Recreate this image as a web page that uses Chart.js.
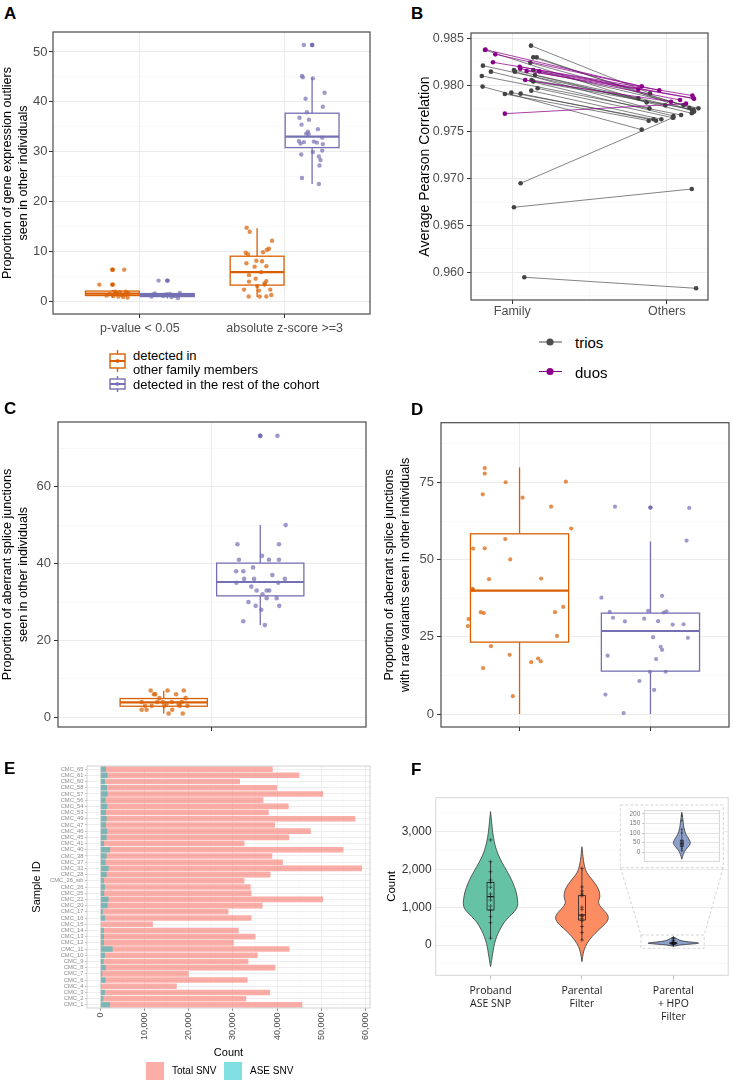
<!DOCTYPE html>
<html>
<head>
<meta charset="utf-8">
<title>Figure</title>
<script src="https://cdn.jsdelivr.net/npm/chart.js@4.4.1/dist/chart.umd.min.js"></script>
<style>
  body { margin: 0; background: #fff; font-family: "Liberation Sans", Arial, sans-serif; }
  #page { position: relative; width: 733px; height: 1082px; overflow: hidden; background: #fff; }
  canvas { position: absolute; }
  .tag { position: absolute; font-size: 17px; font-weight: bold; line-height: 17px; color: #000; }
  .txt { position: absolute; white-space: nowrap; color: #000; }
  svg { position: absolute; overflow: visible; }
  .sq { position: absolute; width: 18px; height: 18px; }
</style>
</head>
<body>
<div id="page">
  <canvas id="chartA" width="375" height="322" style="left:0;top:25px"></canvas>
  <canvas id="chartB" width="358" height="300" style="left:375px;top:25px"></canvas>
  <canvas id="chartC" width="375" height="340" style="left:0;top:395px"></canvas>
  <canvas id="chartD" width="358" height="340" style="left:375px;top:395px"></canvas>
  <canvas id="chartE" width="375" height="327" style="left:0;top:755px"></canvas>
  <canvas id="chartF" width="358" height="275" style="left:375px;top:755px"></canvas>
  <canvas id="chartInset" width="102" height="60" style="left:622px;top:806px"></canvas>

  <div class="tag" style="left:4px;top:4.5px">A</div>
  <div class="tag" style="left:411px;top:4.5px">B</div>
  <div class="tag" style="left:4px;top:399.5px">C</div>
  <div class="tag" style="left:411px;top:401px">D</div>
  <div class="tag" style="left:4px;top:760px">E</div>
  <div class="tag" style="left:411px;top:760.5px">F</div>

  <!-- legend A -->
  <svg style="left:108px;top:348px" width="20" height="46">
    <g stroke="#D95F02" stroke-width="1.4" fill="#fff">
      <line x1="9.5" y1="2" x2="9.5" y2="6"/><line x1="9.5" y1="20" x2="9.5" y2="24"/>
      <rect x="2" y="6" width="15" height="14"/>
      <line x1="2" y1="13" x2="17" y2="13" stroke-width="2"/>
    </g>
    <circle cx="9.5" cy="13" r="2.1" fill="#D95F02" fill-opacity="0.8"/>
    <g stroke="#7570B3" stroke-width="1.4" fill="#fff">
      <line x1="9.5" y1="28" x2="9.5" y2="31"/><line x1="9.5" y1="41" x2="9.5" y2="44"/>
      <rect x="2" y="31" width="15" height="10"/>
      <line x1="2" y1="36" x2="17" y2="36" stroke-width="2"/>
    </g>
    <circle cx="9.5" cy="36" r="2.1" fill="#7570B3" fill-opacity="0.8"/>
  </svg>
  <div class="txt" style="left:133px;top:348.5px;font-size:13px;line-height:14px">detected in</div>
  <div class="txt" style="left:133px;top:362.5px;font-size:13px;line-height:14px">other family members</div>
  <div class="txt" style="left:133px;top:377.5px;font-size:13px;line-height:14px">detected in the rest of the cohort</div>

  <!-- legend B -->
  <svg style="left:535px;top:330px" width="30" height="50">
    <line x1="4" y1="12" x2="27" y2="12" stroke="#4D4D4D" stroke-width="1"/>
    <circle cx="15" cy="12" r="3.6" fill="#4D4D4D"/>
    <line x1="4" y1="41.5" x2="27" y2="41.5" stroke="#8B008B" stroke-width="1"/>
    <circle cx="15" cy="41.5" r="3.6" fill="#8B008B"/>
  </svg>
  <div class="txt" style="left:575px;top:335px;font-size:15px;line-height:15px">trios</div>
  <div class="txt" style="left:575px;top:364.5px;font-size:15px;line-height:15px">duos</div>

  <!-- legend E -->
  <div class="sq" style="left:146px;top:1062px;background:rgba(248,118,109,0.6)"></div>
  <div class="txt" style="left:172px;top:1066px;font-size:10px;line-height:10px">Total SNV</div>
  <div class="sq" style="left:224px;top:1062px;background:rgba(0,191,196,0.5)"></div>
  <div class="txt" style="left:250px;top:1066px;font-size:10px;line-height:10px">ASE SNV</div>
</div>

<script>
const FONT = '"Liberation Sans", Arial, sans-serif';
const INK = '#4D4D4D';
const ORANGE = '#D95F02', PURPLE = '#7570B3';
const ORANGE_PT = 'rgba(217,95,2,0.7)', PURPLE_PT = 'rgba(117,112,179,0.7)';
Chart.defaults.font.family = FONT;
Chart.defaults.color = INK;

// ---------- A: gene expression outliers ----------
const aCategories = ['p-value < 0.05', 'absolute z-score >=3'];
const aYTicks = [0, 10, 20, 30, 40, 50];
const aYMinor = [5, 15, 25, 35, 45];
// [lower whisker, q1, median, q3, upper whisker]
const aFamilyBox = [[0.7, 1.1, 1.5, 2.0, 2.2], [0.8, 3.2, 5.8, 9.0, 14.6]];
const aCohortBox = [[0.5, 0.9, 1.2, 1.5, 1.7], [23.5, 30.8, 33.0, 37.7, 44.8]];
const aFamilyOut = [[1, 6.3], [1, 3.3]];
const aCohortOut = [[1, 4.1], [2, 51.4]];
// [jitter from category centre, value]
const aFamilyPval = [[-0.186,6.3],[-0.108,6.3],[-0.28,3.3],[-0.186,3.3],[-0.172,1.9],[-0.138,1.8],[-0.097,1.9],[-0.161,1.5],[-0.126,1.2],[-0.184,1.0],[-0.149,0.9],[-0.115,0.8],[-0.085,0.7],[-0.207,1.4],[-0.103,1.3],[-0.08,1.6],[-0.23,1.1],[-0.166,1.7]];
const aCohortPval = [[0.129,4.1],[0.191,4.1],[0.092,1.3],[0.115,1.2],[0.161,1.0],[0.207,1.4],[0.230,1.1],[0.264,0.6],[0.276,1.6],[0.080,0.9],[0.179,1.3],[0.248,1.0],[0.103,1.5],[0.218,0.8]];
const aFamilyZ = [[-0.262,14.7],[-0.241,13.9],[-0.087,12.1],[-0.108,10.5],[-0.122,10.3],[-0.269,9.7],[-0.253,9.4],[-0.149,9.8],[-0.195,8.1],[-0.156,8.0],[-0.264,7.6],[-0.126,7.0],[-0.207,6.9],[-0.246,5.2],[-0.161,5.8],[-0.2,4.5],[-0.126,4.0],[-0.246,3.9],[-0.138,3.6],[-0.28,2.3],[-0.177,2.1],[-0.099,2.3],[-0.092,1.2],[-0.248,0.9],[-0.172,0.9],[-0.126,0.9],[-0.138,3.3],[-0.189,3.0]];
const aCohortZ = [[0.133,51.4],[0.191,51.4],[0.12,45.2],[0.126,44.9],[0.195,44.7],[0.276,41.8],[0.145,40.6],[0.264,39.0],[0.154,37.9],[0.103,36.8],[0.168,36.4],[0.117,35.4],[0.23,34.5],[0.149,33.6],[0.166,33.5],[0.26,32.8],[0.099,32.1],[0.202,32.0],[0.223,31.8],[0.11,31.6],[0.264,31.5],[0.26,30.2],[0.195,29.9],[0.115,29.4],[0.237,29.0],[0.248,28.3],[0.241,27.2],[0.12,24.7],[0.237,23.5],[0.133,31.9],[0.161,34.0]];

// ---------- B: Pearson correlation, family vs others ----------
const bCategories = ['Family', 'Others'];
const bYTicks = [0.960, 0.965, 0.970, 0.975, 0.980, 0.985];
const bYMinor = [0.9575, 0.9625, 0.9675, 0.9725, 0.9775, 0.9825];
const trioFamilyX = [1.121,0.823,0.810,0.862,0.803,0.808,0.952,0.994,1.054,1.123,1.164,1.117,1.136,1.158,1.011,1.017,1.136,1.147,1.125,1.136,1.054,1.011,1.078];
const trioFamilyY = [0.98422,0.98375,0.98208,0.98144,0.98098,0.97984,0.97905,0.97920,0.97909,0.97941,0.97966,0.98240,0.98297,0.98297,0.98162,0.98144,0.98162,0.98108,0.98055,0.98040,0.96951,0.96695,0.95947];
const trioOthersX = [1.892,1.870,1.991,2.043,2.093,1.838,1.883,1.914,1.931,1.965,2.039,2.108,2.147,2.177,2.162,1.888,2.205,2.164,1.816,2.173,2.043,2.162,2.190];
const trioOthersY = [0.97912,0.97816,0.97784,0.97670,0.97681,0.97524,0.97620,0.97635,0.97620,0.97635,0.97652,0.97788,0.97759,0.97717,0.97699,0.97752,0.97752,0.97734,0.97859,0.97740,0.97655,0.96890,0.95829];
const duoFamilyX = [0.827,0.890,0.875,1.048,1.052,1.093,1.175,1.084,0.952];
const duoFamilyY = [0.98379,0.98329,0.98244,0.98197,0.98176,0.98151,0.98147,0.98055,0.97695];
const duoOthersX = [1.838,1.952,2.166,2.173,2.086,1.816,2.177,2.028,2.125];
const duoOthersY = [0.97987,0.97944,0.97888,0.97859,0.97841,0.97955,0.97855,0.97823,0.97802];

// ---------- C: aberrant splice junctions ----------
const cYTicks = [0, 20, 40, 60];
const cYMinor = [10, 30, 50, 70];
const cFamilyBox = [1.0, 2.9, 3.9, 4.9, 6.9];
const cCohortBox = [24, 31.6, 35.2, 40.1, 50];
const cCohortOut = [73.2];
const cFamily = [[-0.239,7],[-0.173,7],[-0.110,7],[-0.226,6],[-0.221,6],[-0.140,6],[-0.205,5],[-0.103,5],[-0.274,4],[-0.213,4],[-0.157,4],[-0.118,4],[-0.261,3],[-0.235,3],[-0.186,3],[-0.125,3],[-0.096,3],[-0.274,2],[-0.255,2],[-0.155,2],[-0.169,1],[-0.114,1],[-0.192,4],[-0.130,3.5],[-0.177,3.5]];
const cCohort = [[0.255,73.2],[0.188,73.2],[0.287,50],[0.099,45],[0.261,45],[0.195,42],[0.105,41],[0.222,41],[0.261,41],[0.160,39],[0.094,38],[0.122,38],[0.125,36],[0.164,36],[0.284,36],[0.095,35],[0.258,35],[0.153,34],[0.174,33],[0.213,33],[0.223,33],[0.197,32],[0.213,31],[0.252,31],[0.142,30],[0.170,29],[0.262,29],[0.192,28],[0.122,25],[0.206,24],[0.235,37]];

// ---------- D: junctions with rare variants ----------
const dYTicks = [0, 25, 50, 75];
const dYMinor = [12.5, 37.5, 62.5, 87.5];
const dFamilyBox = [0, 23.3, 40.0, 58.4, 79.9];
const dCohortBox = [0, 13.9, 26.9, 32.7, 55.9];
const dCohortOut = [66.9];
const dFamily = [[-0.266,79.7],[-0.266,77.9],[-0.281,71.2],[-0.106,75.1],[0.354,75.3],[0.023,70.1],[0.241,67.2],[0.395,60.1],[-0.109,56.7],[-0.354,53.6],[-0.266,53.7],[-0.071,50.1],[-0.233,43.7],[0.165,43.9],[-0.359,40.6],[-0.354,40.2],[-0.39,30.8],[-0.395,28.5],[-0.296,33.0],[-0.273,32.7],[0.271,33.0],[0.334,34.7],[0.286,25.3],[-0.218,22.0],[-0.076,19.2],[-0.278,14.9],[0.089,16.8],[0.142,18.0],[0.162,17.1],[-0.051,5.8]];
const dCohort = [[-0.271,67.2],[0,66.9],[0.296,66.8],[0.276,56.2],[-0.375,37.7],[0.089,38.3],[-0.311,33.1],[-0.018,33.4],[0.101,32.9],[0.122,33.3],[-0.286,31.2],[-0.195,30.0],[-0.048,30.9],[0.058,30.1],[0.17,29.0],[0.253,29.1],[0.02,24.9],[0.286,24.7],[0.078,21.8],[0.089,20.8],[-0.327,18.9],[0.043,17.8],[-0.005,13.7],[0.116,13.7],[-0.084,10.7],[0.028,7.8],[-0.344,6.3],[-0.205,0.3]];

// ---------- E: SNV counts per sample ----------
const eSamples = ['CMC_65','CMC_61','CMC_60','CMC_58','CMC_57','CMC_56','CMC_54','CMC_53','CMC_49','CMC_47','CMC_46','CMC_45','CMC_41','CMC_40','CMC_38','CMC_37','CMC_32','CMC_28','CMC_26_sib','CMC_26','CMC_25','CMC_22','CMC_20','CMC_17','CMC_16','CMC_15','CMC_14','CMC_13','CMC_12','CMC_11','CMC_10','CMC_9','CMC_8','CMC_7','CMC_6','CMC_4','CMC_3','CMC_2','CMC_1'];
const eTotal = [39000,45000,31600,40000,50400,36900,42600,38100,57700,39500,47600,42700,32600,55000,38900,41300,59200,38500,32600,34000,34200,50400,36700,29000,34200,11900,31300,35100,30200,42800,35600,33500,39600,20000,33300,17300,38400,33000,45700];
const eAse = [1280,1660,1050,1500,1660,1200,1580,1280,1430,1280,1580,1430,830,2190,1430,1200,1880,1430,830,1050,900,1880,1660,600,1050,150,830,830,830,2790,1050,750,1280,450,1200,230,1050,680,2190];
const eXTicks = [0, 10000, 20000, 30000, 40000, 50000, 60000];
const eXMinor = [5000, 15000, 25000, 35000, 45000, 55000];

// ---------- F: ASE SNP filtering ----------
const fCategories = [['Proband', 'ASE SNP'], ['Parental', 'Filter'], ['Parental', '+ HPO', 'Filter']];
const fYTicks = [0, 1000, 2000, 3000];
const fYMinor = [-500, 500, 1500, 2500, 3500];
// violin outlines: [count, half width in category units]
const fProbandShape = [[3530,0],[3250,0.012],[2956,0.024],[2740,0.04],[2515,0.063],[2300,0.10],[2073,0.151],[1850,0.205],[1632,0.248],[1400,0.282],[1191,0.297],[1015,0.299],[880,0.26],[750,0.205],[620,0.155],[485,0.119],[300,0.08],[132,0.054],[-50,0.035],[-220,0.024],[-400,0.012],[-573,0]];
const fParentalShape = [[2603,0],[2420,0.008],[2250,0.015],[1985,0.036],[1850,0.07],[1720,0.115],[1590,0.155],[1456,0.187],[1279,0.2],[1150,0.178],[1050,0.19],[926,0.237],[840,0.27],[750,0.29],[660,0.285],[573,0.26],[480,0.22],[397,0.18],[220,0.108],[44,0.054],[-132,0.022],[-300,0.008],[-441,0]];
const fHpoShape = [[208,0],[175,0.032],[126,0.064],[93,0.127],[68,0.233],[46,0.297],[26,0.19],[2,0.074],[-23,0.021],[-36,0]];
const fBoxes = [[180, 926, 1279, 1659, 2205], [132, 662, 794, 1306, 2030], [2, 30, 46, 63, 120]];
const fProbandPts = [2780, 2205, 1940, 1720, 1650, 1530, 1350, 1280, 1190, 1030, 926, 750, 591, 180];
const fParentalPts = [2030, 1536, 1430, 1350, 1300, 1000, 940, 794, 750, 700, 640, 490, 330, 132];
const fHpoPts = [190, 165, 120, 100, 60, 55, 48, 45, 40, 35, 30, 20, 10];
const insetYTicks = [0, 50, 100, 150, 200];
const insetYMinor = [-25, 25, 75, 125, 175];

// ---------- helpers ----------
function fixSize(size) {
  return s => {
    if (s.isHorizontal()) s.height = size; else s.width = size;
    s.paddingLeft = s.paddingRight = s.paddingTop = s.paddingBottom = 0;
  };
}

function numAxis(o) {
  const minor = o.minor || [];
  const isMajor = v => o.major.indexOf(v) >= 0;
  return {
    type: 'linear', position: o.position, min: o.min, max: o.max, bounds: 'data',
    afterBuildTicks: s => { s.ticks = o.major.concat(minor).sort((a, b) => a - b).map(v => ({ value: v })); },
    afterFit: fixSize(o.size),
    ticks: {
      autoSkip: false, maxRotation: o.rotate || 0, minRotation: o.rotate || 0,
      padding: o.pad !== undefined ? o.pad : 2, color: o.tickText || INK,
      font: { family: o.family || FONT, size: o.fontSize || 13, lineHeight: o.lineHeight || 1.2 },
      callback: v => isMajor(v) ? (o.labels ? o.labels[o.major.indexOf(v)] : (o.fmt ? o.fmt(v) : v)) : ''
    },
    grid: {
      color: c => c.tick && isMajor(c.tick.value) ? (o.grid || '#EBEBEB') : (o.gridMinor || '#F3F3F3'),
      lineWidth: c => c.tick && isMajor(c.tick.value) ? 1 : 0.6,
      tickLength: o.tickLength !== undefined ? o.tickLength : 4,
      tickColor: c => c.tick && isMajor(c.tick.value) ? (o.tickColor || '#333') : 'rgba(0,0,0,0)',
      tickWidth: 1
    },
    border: { display: false },
    title: o.title ? {
      display: true, text: o.title, color: '#000',
      font: { family: o.family || FONT, size: o.titleSize || 12.5, lineHeight: o.titleLh || 1.25 },
      padding: { top: o.titleTop || 0, bottom: o.titleBottom || 0 }
    } : { display: false }
  };
}

function framePlugin(color, width) {
  return {
    id: 'frame',
    afterDatasetsDraw(chart) {
      const a = chart.chartArea, ctx = chart.ctx;
      ctx.save();
      ctx.strokeStyle = color;
      ctx.lineWidth = width;
      ctx.strokeRect(a.left, a.top, a.right - a.left, a.bottom - a.top);
      ctx.restore();
    }
  };
}

function drawBox(ctx, xs, ys, b) {
  const x0 = xs.getPixelForValue(b.x - b.half), x1 = xs.getPixelForValue(b.x + b.half);
  const xc = xs.getPixelForValue(b.x);
  const [lo, q1, med, q3, hi] = b.stats.map(v => ys.getPixelForValue(v));
  ctx.strokeStyle = b.color;
  ctx.lineWidth = b.lw;
  ctx.beginPath();
  ctx.moveTo(xc, q3); ctx.lineTo(xc, hi);
  ctx.moveTo(xc, q1); ctx.lineTo(xc, lo);
  ctx.stroke();
  if (b.fill) { ctx.fillStyle = b.fill; ctx.fillRect(x0, q3, x1 - x0, q1 - q3); }
  ctx.strokeRect(x0, q3, x1 - x0, q1 - q3);
  ctx.lineWidth = b.medLw;
  ctx.beginPath(); ctx.moveTo(x0, med); ctx.lineTo(x1, med); ctx.stroke();
}

function boxPlugin(boxes) {
  return {
    id: 'boxes',
    beforeDatasetsDraw(chart) {
      const ctx = chart.ctx;
      ctx.save();
      boxes.forEach(b => drawBox(ctx, chart.scales.x, chart.scales.y, b));
      ctx.restore();
    }
  };
}

function violinPath(ctx, xs, ys, cx, shape) {
  const left = shape.map(([v, w]) => [xs.getPixelForValue(cx - w), ys.getPixelForValue(v)]);
  const right = shape.map(([v, w]) => [xs.getPixelForValue(cx + w), ys.getPixelForValue(v)]).reverse();
  const pts = left.concat(right);
  const n = pts.length;
  const mid = (p, q) => [(p[0] + q[0]) / 2, (p[1] + q[1]) / 2];
  ctx.beginPath();
  const m0 = mid(pts[n - 1], pts[0]);
  ctx.moveTo(m0[0], m0[1]);
  for (let i = 0; i < n; i++) {
    const p = pts[i], m = mid(p, pts[(i + 1) % n]);
    ctx.quadraticCurveTo(p[0], p[1], m[0], m[1]);
  }
  ctx.closePath();
}

function violinPlugin(violins, boxes) {
  return {
    id: 'violins',
    beforeDatasetsDraw(chart) {
      const ctx = chart.ctx, xs = chart.scales.x, ys = chart.scales.y;
      ctx.save();
      violins.forEach(v => {
        violinPath(ctx, xs, ys, v.x, v.shape);
        ctx.fillStyle = v.color; ctx.fill();
        ctx.strokeStyle = '#3A3A3A'; ctx.lineWidth = 0.8; ctx.stroke();
      });
      boxes.forEach(b => drawBox(ctx, xs, ys, b));
      ctx.restore();
    }
  };
}

function jitterPoints(list, cat) {
  return list.map(p => ({ x: cat + p[0], y: p[1] }));
}

function scatterSet(data, color, radius) {
  return { data, pointRadius: radius, pointBackgroundColor: color, pointBorderWidth: 0, showLine: false };
}

const common = {
  responsive: false, animation: false, events: [],
  plugins: { legend: { display: false }, tooltip: { enabled: false } }
};

// ---------- chart A ----------
const A_DODGE = 0.19, A_HALF = 0.186;
new Chart(document.getElementById('chartA'), {
  type: 'scatter',
  data: { datasets: [
    scatterSet(jitterPoints(aFamilyPval, 1), ORANGE_PT, 2.2),
    scatterSet(jitterPoints(aCohortPval, 1), PURPLE_PT, 2.2),
    scatterSet(jitterPoints(aFamilyZ, 2), ORANGE_PT, 2.2),
    scatterSet(jitterPoints(aCohortZ, 2), PURPLE_PT, 2.2),
    scatterSet(aFamilyOut.map(p => ({ x: p[0] - A_DODGE, y: p[1] })), ORANGE, 2.2),
    scatterSet(aCohortOut.map(p => ({ x: p[0] + A_DODGE, y: p[1] })), PURPLE, 2.2)
  ] },
  options: Object.assign({}, common, {
    layout: { padding: { top: 7, right: 5, left: 0, bottom: 0 } },
    scales: {
      x: numAxis({ position: 'bottom', min: 0.4, max: 2.59, major: [1, 2], labels: aCategories, size: 33, fontSize: 12.5, pad: 3.5 }),
      y: numAxis({ position: 'left', min: -2.6, max: 54, major: aYTicks, minor: aYMinor, size: 53, fontSize: 13, pad: 1.5,
        title: ['Proportion of gene expression outliers', 'seen in other individuals'], titleSize: 12.6 })
    }
  }),
  plugins: [boxPlugin([
    { x: 1 - A_DODGE, half: A_HALF, stats: aFamilyBox[0], color: ORANGE, fill: '#fff', lw: 1.3, medLw: 2.2 },
    { x: 1 + A_DODGE, half: A_HALF, stats: aCohortBox[0], color: PURPLE, fill: '#fff', lw: 1.3, medLw: 2.2 },
    { x: 2 - A_DODGE, half: A_HALF, stats: aFamilyBox[1], color: ORANGE, fill: '#fff', lw: 1.3, medLw: 2.2 },
    { x: 2 + A_DODGE, half: A_HALF, stats: aCohortBox[1], color: PURPLE, fill: '#fff', lw: 1.3, medLw: 2.2 }
  ]), framePlugin('#4A4A4A', 1.2)]
});

// ---------- chart B ----------
function pairSet(x1, y1, x2, y2, line, dot, order) {
  return {
    data: [{ x: x1, y: y1 }, { x: x2, y: y2 }], showLine: true, borderColor: line, borderWidth: 0.75,
    pointRadius: 2.3, pointBackgroundColor: dot, pointBorderWidth: 0, order
  };
}
const bSets = [];
duoFamilyX.forEach((x, i) => bSets.push(pairSet(x, duoFamilyY[i], duoOthersX[i], duoOthersY[i], '#8B008B', '#8B008B', 0)));
trioFamilyX.forEach((x, i) => bSets.push(pairSet(x, trioFamilyY[i], trioOthersX[i], trioOthersY[i], 'rgba(60,60,60,0.85)', '#444', 1)));

new Chart(document.getElementById('chartB'), {
  type: 'scatter',
  data: { datasets: bSets },
  options: Object.assign({}, common, {
    layout: { padding: { top: 8, right: 25, left: 0, bottom: 0 } },
    scales: {
      x: numAxis({ position: 'bottom', min: 0.733, max: 2.267, major: [1, 2], minor: [1.5], labels: bCategories, size: 25, fontSize: 12.5, pad: 0 }),
      y: numAxis({ position: 'left', min: 0.95704, max: 0.98557, major: bYTicks, minor: bYMinor, size: 96, fontSize: 12.5, pad: 3,
        fmt: v => v.toFixed(3), title: 'Average Pearson Correlation', titleSize: 14, titleLh: 1.2, titleTop: 41.6 })
    }
  }),
  plugins: [framePlugin('#4A4A4A', 1.2)]
});

// ---------- chart C ----------
const C_DODGE = 0.188, C_HALF = 0.17;
new Chart(document.getElementById('chartC'), {
  type: 'scatter',
  data: { datasets: [
    scatterSet(jitterPoints(cFamily, 1), ORANGE_PT, 2.3),
    scatterSet(jitterPoints(cCohort, 1), PURPLE_PT, 2.3),
    scatterSet(cCohortOut.map(v => ({ x: 1 + C_DODGE, y: v })), PURPLE, 2.3)
  ] },
  options: Object.assign({}, common, {
    layout: { padding: { top: 27, right: 9, left: 0, bottom: 0 } },
    scales: {
      x: numAxis({ position: 'bottom', min: 0.4, max: 1.6, major: [1], labels: [''], size: 8 }),
      y: numAxis({ position: 'left', min: -2.5, max: 76.8, major: cYTicks, minor: cYMinor, size: 58, fontSize: 13, pad: 3,
        title: ['Proportion of aberrant splice junctions', 'seen in other individuals'], titleSize: 12.6 })
    }
  }),
  plugins: [boxPlugin([
    { x: 1 - C_DODGE, half: C_HALF, stats: cFamilyBox, color: ORANGE, fill: '#fff', lw: 1.3, medLw: 2.2 },
    { x: 1 + C_DODGE, half: C_HALF, stats: cCohortBox, color: PURPLE, fill: '#fff', lw: 1.3, medLw: 2.2 }
  ]), framePlugin('#4A4A4A', 1.2)]
});

// ---------- chart D ----------
const D_HALF = 0.375;
new Chart(document.getElementById('chartD'), {
  type: 'scatter',
  data: { datasets: [
    scatterSet(jitterPoints(dFamily, 1), ORANGE_PT, 2.1),
    scatterSet(jitterPoints(dCohort, 2), PURPLE_PT, 2.1),
    scatterSet(dCohortOut.map(v => ({ x: 2, y: v })), PURPLE, 2.1)
  ] },
  options: Object.assign({}, common, {
    layout: { padding: { top: 27.7, right: 2, left: 0, bottom: 0 } },
    scales: {
      x: numAxis({ position: 'bottom', min: 0.4, max: 2.6, major: [1, 2], labels: ['', ''], size: 8 }),
      y: numAxis({ position: 'left', min: -4.2, max: 94.4, major: dYTicks, minor: dYMinor, size: 66, fontSize: 13, pad: 3,
        title: ['Proportion of aberrant splice junctions', 'with rare variants seen in other individuals'], titleSize: 12.6, titleTop: 6.5 })
    }
  }),
  plugins: [boxPlugin([
    { x: 1, half: D_HALF, stats: dFamilyBox, color: ORANGE, fill: '#fff', lw: 1.3, medLw: 2.2 },
    { x: 2, half: D_HALF, stats: dCohortBox, color: PURPLE, fill: '#fff', lw: 1.3, medLw: 2.2 }
  ]), framePlugin('#4A4A4A', 1.2)]
});

// ---------- chart E ----------
const withCommas = v => String(v).replace(/\B(?=(\d{3})+(?!\d))/g, ',');
new Chart(document.getElementById('chartE'), {
  type: 'bar',
  data: {
    labels: eSamples,
    datasets: [
      { label: 'ASE SNV', data: eAse, backgroundColor: 'rgba(0,191,196,0.5)', grouped: false, barPercentage: 0.9, categoryPercentage: 1, borderWidth: 0 },
      { label: 'Total SNV', data: eTotal, backgroundColor: 'rgba(248,118,109,0.6)', grouped: false, barPercentage: 0.9, categoryPercentage: 1, borderWidth: 0 }
    ]
  },
  options: Object.assign({}, common, {
    indexAxis: 'y',
    layout: { padding: { top: 11, right: 5, left: 0, bottom: 0 } },
    scales: {
      x: numAxis({ position: 'bottom', min: -3000, max: 61000, major: eXTicks, minor: eXMinor, size: 74, fontSize: 9, pad: 1.5,
        rotate: 90, fmt: withCommas, tickLength: 3, tickColor: '#999', grid: '#EEEEEE', gridMinor: '#F6F6F6',
        title: 'Count', titleSize: 11, titleBottom: 22.4 }),
      y: {
        type: 'category', offset: true,
        afterFit: fixSize(87),
        ticks: { autoSkip: false, font: { family: FONT, size: 5.8 }, color: '#8C8C8C', padding: 1.5 },
        grid: { offset: false, color: '#EEEEEE', tickLength: 2, tickColor: '#BBBBBB' },
        border: { display: false },
        title: { display: true, text: 'Sample ID', color: '#000', font: { family: FONT, size: 11, lineHeight: 1.25 }, padding: { top: 29.8, bottom: 0 } }
      }
    }
  }),
  plugins: [framePlugin('#D2D2D2', 1)]
});

// ---------- chart F ----------
const F_BOX_HALF = 0.038;
const fInsetBox = { x0: 2.42, x1: 3.546, y0: 2046, y1: 3706 };
const fZoomBox = { x0: 2.646, x1: 3.337, y0: -87, y1: 265 };
const insetPlugin = {
  id: 'insetFrame',
  afterDatasetsDraw(chart) {
    const ctx = chart.ctx, xs = chart.scales.x, ys = chart.scales.y;
    const px = v => xs.getPixelForValue(v), py = v => ys.getPixelForValue(v);
    ctx.save();
    ctx.fillStyle = '#fff';
    ctx.fillRect(px(fInsetBox.x0), py(fInsetBox.y1), px(fInsetBox.x1) - px(fInsetBox.x0), py(fInsetBox.y0) - py(fInsetBox.y1));
    ctx.strokeStyle = '#C9C9C9';
    ctx.lineWidth = 0.8;
    ctx.setLineDash([3, 2]);
    ctx.strokeRect(px(fInsetBox.x0), py(fInsetBox.y1), px(fInsetBox.x1) - px(fInsetBox.x0), py(fInsetBox.y0) - py(fInsetBox.y1));
    ctx.strokeRect(px(fZoomBox.x0), py(fZoomBox.y1), px(fZoomBox.x1) - px(fZoomBox.x0), py(fZoomBox.y0) - py(fZoomBox.y1));
    ctx.beginPath();
    ctx.moveTo(px(fInsetBox.x0), py(fInsetBox.y0)); ctx.lineTo(px(fZoomBox.x0), py(fZoomBox.y1));
    ctx.moveTo(px(fInsetBox.x1), py(fInsetBox.y0)); ctx.lineTo(px(fZoomBox.x1), py(fZoomBox.y1));
    ctx.stroke();
    ctx.restore();
  }
};
const crossSet = (vals, cat) => ({
  data: vals.map(v => ({ x: cat, y: v })), pointStyle: 'cross', pointRadius: 2,
  borderColor: 'rgba(20,20,20,0.65)', pointBorderWidth: 0.8, showLine: false
});
new Chart(document.getElementById('chartF'), {
  type: 'scatter',
  data: { datasets: [crossSet(fProbandPts, 1), crossSet(fParentalPts, 2), crossSet(fHpoPts, 3)] },
  options: Object.assign({}, common, {
    layout: { padding: { top: 42.7, right: 1.3, left: 0, bottom: 0 } },
    scales: {
      x: numAxis({ position: 'bottom', min: 0.4, max: 3.6, major: [1, 2, 3], labels: fCategories, size: 54.7,
        family: '"Open Sans", "Liberation Sans", sans-serif', fontSize: 10.5, lineHeight: 1.25, pad: 5, tickText: '#222',
        tickColor: '#BBBBBB', grid: 'rgba(0,0,0,0)' }),
      y: numAxis({ position: 'left', min: -802, max: 3899, major: fYTicks, minor: fYMinor, size: 60.7, fontSize: 12, pad: 4,
        tickLength: 0, tickText: '#333', fmt: withCommas, title: 'Count', titleSize: 11.5, titleLh: 1.2, titleTop: 9.8 })
    }
  }),
  plugins: [violinPlugin([
    { x: 1, shape: fProbandShape, color: '#66C2A5' },
    { x: 2, shape: fParentalShape, color: '#FC8D62' },
    { x: 3, shape: fHpoShape, color: '#8DA0CB' }
  ], [
    { x: 1, half: F_BOX_HALF, stats: fBoxes[0], color: '#222', lw: 0.8, medLw: 1.2 },
    { x: 2, half: F_BOX_HALF, stats: fBoxes[1], color: '#222', lw: 0.8, medLw: 1.2 },
    { x: 3, half: F_BOX_HALF, stats: fBoxes[2], color: '#222', lw: 0.8, medLw: 1.2 }
  ]), framePlugin('#D6D6D6', 1), insetPlugin]
});

// ---------- inset of F ----------
new Chart(document.getElementById('chartInset'), {
  type: 'scatter',
  data: { datasets: [Object.assign(crossSet(fHpoPts, 3), { pointRadius: 1.2, pointBorderWidth: 0.6 })] },
  options: Object.assign({}, common, {
    layout: { padding: { top: 4, right: 3.3, left: 0, bottom: 2.7 } },
    scales: {
      x: { type: 'linear', display: false, min: 1.78, max: 4.22 },
      y: numAxis({ position: 'left', min: -47.6, max: 216.7, major: insetYTicks, minor: insetYMinor, size: 22.3, fontSize: 6.5, pad: 2,
        tickLength: 2, tickColor: '#BBBBBB', tickText: '#777', grid: '#E4E4E4', gridMinor: '#F1F1F1' })
    }
  }),
  plugins: [violinPlugin([{ x: 3, shape: fHpoShape, color: '#8DA0CB' }],
    [{ x: 3, half: 0.053, stats: fBoxes[2], color: '#222', lw: 0.6, medLw: 0.9 }]), framePlugin('#D6D6D6', 1)]
});
</script>
</body>
</html>
